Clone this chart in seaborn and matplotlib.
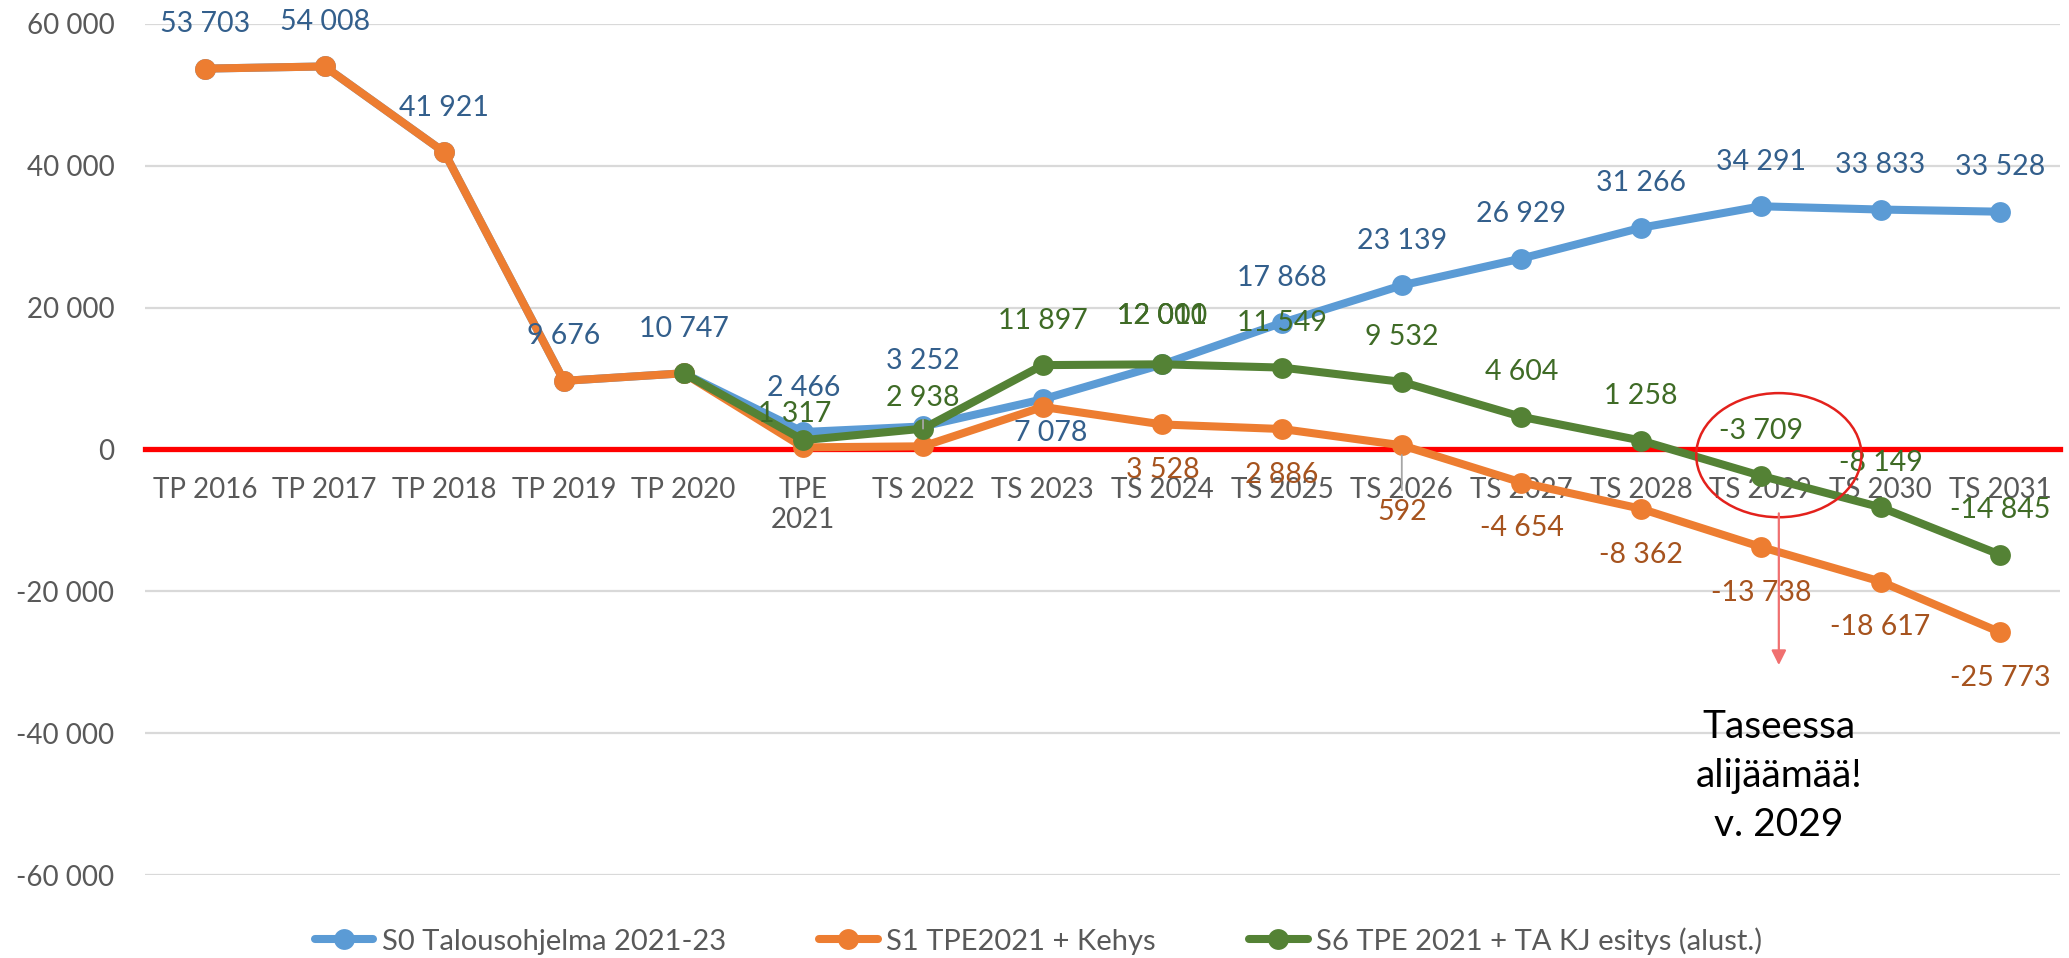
import numpy as np
import pandas as pd
import seaborn as sns
import matplotlib.pyplot as plt
from matplotlib.lines import Line2D
from matplotlib.patches import Ellipse

# --- data ---
categories = ['TP 2016', 'TP 2017', 'TP 2018', 'TP 2019', 'TP 2020', 'TPE\n2021',
              'TS 2022', 'TS 2023', 'TS 2024', 'TS 2025', 'TS 2026', 'TS 2027',
              'TS 2028', 'TS 2029', 'TS 2030', 'TS 2031']
series_names = ['S0 Talousohjelma 2021-23', 'S1 TPE2021 + Kehys',
                'S6 TPE 2021 + TA KJ esitys (alust.)']
s0_values = [53703, 54008, 41921, 9676, 10747, 2466, 3252, 7078, 12000,
             17868, 23139, 26929, 31266, 34291, 33833, 33528]
s1_values = [53703, 54008, 41921, 9676, 10747, 300, 450, 6000, 3528,
             2886, 592, -4654, -8362, -13738, -18617, -25773]
s6_values = [np.nan, np.nan, np.nan, np.nan, 10747, 1317, 2938, 11897, 12011,
             11549, 9532, 4604, 1258, -3709, -8149, -14845]
y_ticks = [-60000, -40000, -20000, 0, 20000, 40000, 60000]
note_text = 'Taseessa\nalijäämää!\nv. 2029'

line_colors = ['#5B9BD5', '#ED7D31', '#548235']
label_colors = ['#335F8C', '#A6531E', '#3F6B26']

# which points get a value label, and how far the label sits (points)
label_spots = {
    0: {i: (0, 32) for i in range(16)},
    1: {i: (0, -33) for i in range(8, 16)},
    2: {i: (0, 32) for i in range(5, 16)},
}
label_spots[0][6] = (0, 47)
label_spots[0][7] = (6, -24)
label_spots[0][8] = (0, 35)
label_spots[1][10] = (0, -48)
label_spots[2][5] = (-6, 19)
label_spots[2][6] = (0, 22)
label_spots[2][8] = (0, 35)
leaders = {(2, 6), (1, 10)}


def fmt(v):
    return f'{v:,.0f}'.replace(',', ' ')


frames = []
for name, vals in zip(series_names, [s0_values, s1_values, s6_values]):
    frames.append(pd.DataFrame({'pos': np.arange(len(categories)),
                                'value': vals, 'series': name}))
df = pd.concat(frames).dropna()

sns.set_style('white')
plt.rcParams['font.family'] = ['Lato', 'DejaVu Sans']

fig = plt.figure(figsize=(20.69, 9.58), dpi=100)
ax = fig.add_axes([0.0701, 0.0866, 0.9256, 0.8884])

sns.lineplot(data=df, x='pos', y='value', hue='series', hue_order=series_names,
             palette=line_colors, marker='o', markersize=15, markeredgewidth=0,
             linewidth=5.8, errorbar=None, sort=False, legend=False, ax=ax,
             zorder=3)

ax.set_xlim(-0.5, len(categories) - 0.5)
ax.set_ylim(-60000, 60000)
ax.set_yticks(y_ticks)
ax.set_yticklabels([fmt(v) for v in y_ticks])
ax.set_xticks(np.arange(len(categories)))
ax.set_xticklabels(categories, va='top', linespacing=1.5)
ax.set_xlabel('')
ax.set_ylabel('')

ax.yaxis.grid(True, color='#D9D9D9', linewidth=1.6)
ax.xaxis.grid(False)
for side in ['top', 'right', 'left']:
    ax.spines[side].set_visible(False)
ax.spines['bottom'].set_position(('data', 0))
ax.spines['bottom'].set_color('#FF0000')
ax.spines['bottom'].set_linewidth(3.8)
ax.tick_params(axis='x', length=0, pad=20, labelsize=20, labelcolor='#595959')
ax.tick_params(axis='y', length=0, pad=22, labelsize=20, labelcolor='#595959')

# value labels
all_vals = [s0_values, s1_values, s6_values]
for s, spots in label_spots.items():
    for i, (dx, dy) in spots.items():
        v = all_vals[s][i]
        col = label_colors[s]
        if s == 0 and i == 8:
            col = label_colors[2]
        arrow = None
        if (s, i) in leaders:
            arrow = dict(arrowstyle='-', color='#A6A6A6', lw=1.3,
                         shrinkA=4, shrinkB=7)
        ax.annotate(fmt(v), xy=(i, v), xytext=(dx, dy), textcoords='offset points',
                    ha='center', va='center', fontsize=20.5, color=col,
                    arrowprops=arrow, zorder=5, annotation_clip=False)
# the overlapping second label at TS 2024
ax.annotate(fmt(s6_values[8]), xy=(8, s6_values[8]), xytext=(0, 35),
            textcoords='offset points', ha='center', va='center', fontsize=20.5,
            color=label_colors[2], zorder=5)

# deficit call-out
ax.add_patch(Ellipse((13.15, -800), width=1.38, height=17500, fill=False,
                     edgecolor='#E3211C', linewidth=1.8, zorder=6))
ax.annotate('', xy=(13.15, -30400), xytext=(13.15, -9000),
            arrowprops=dict(arrowstyle='-|>', color='#F07070', lw=1.6,
                            mutation_scale=22, shrinkA=0, shrinkB=0), zorder=6)
ax.text(13.15, -46000, note_text, ha='center', va='center', fontsize=28,
        linespacing=1.45, color='black')

handles = [Line2D([], [], color=c, lw=5.8, marker='o', markersize=15,
                  markeredgewidth=0) for c in line_colors]
fig.legend(handles, series_names, loc='center', bbox_to_anchor=(0.502, 0.018),
           ncol=3, frameon=False, fontsize=21, handlelength=2.0,
           handletextpad=0.3, columnspacing=3.2, labelcolor='#595959')

fig.savefig('out.png', dpi=100)
